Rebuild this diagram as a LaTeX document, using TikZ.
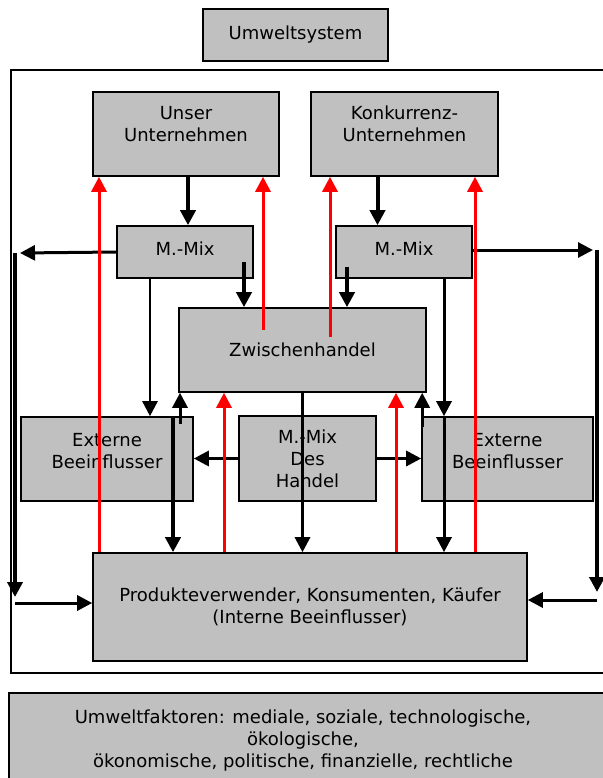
\documentclass[tikz,border=0pt]{standalone}
\usepackage{fontspec}
\setmainfont{DejaVu Sans}
\usetikzlibrary{arrows.meta}
\definecolor{boxgray}{RGB}{192,192,192}

\begin{document}
\begin{tikzpicture}[x=1pt,y=-1pt,
	box/.style={draw, line width=1.6pt, fill=boxgray, align=center, inner sep=0pt,
		font=\fontsize{18}{21.7}\selectfont},
	blk/.style={line width=3pt, -{Triangle[length=15pt,width=15pt]}},
	blkthick/.style={blk, line width=4pt},
	redarr/.style={red, line width=3pt, -{Triangle[length=15pt,width=15pt]}}]
	\useasboundingbox (0,0) rectangle (602,778);
	
	% Draw the Umweltsystem label
	\node[box, minimum width=185pt, minimum height=52pt] (umwelt) at (295.5,35) {Umweltsystem};
	
	% Draw the system frame
	\draw[line width=1.6pt] (11,70) rectangle (604,673);
	
	% Draw the companies
	\node[box, minimum width=186pt, minimum height=84pt, text depth=20pt] (unser) at (186,134) {Unser\\Unternehmen};
	\node[box, minimum width=187pt, minimum height=84pt, text depth=20pt] (konk) at (404.5,134) {Konkurrenz-\\Unternehmen};
	
	% Draw the marketing mixes
	\node[box, minimum width=136pt, minimum height=52pt, text depth=6pt] (mmixl) at (185,252) {M.-Mix};
	\node[box, minimum width=136pt, minimum height=52pt, text depth=6pt] (mmixr) at (404,252) {M.-Mix};
	
	% Draw the trade and the influencers
	\node[box, minimum width=247pt, minimum height=84pt] (zwh) at (302.5,350) {Zwischenhandel};
	\node[box, minimum width=172pt, minimum height=84pt, text depth=16pt] (extl) at (107,459) {Externe\\Beeinflusser};
	\node[box, minimum width=137pt, minimum height=85pt, text depth=-5pt] (mmixh) at (307.5,458.5) {M.-Mix\\Des\\Handel};
	\node[box, minimum width=171pt, minimum height=84pt, text depth=16pt] (extr) at (507.5,459) {Externe\\Beeinflusser};
	
	% Draw the buyers
	\node[box, minimum width=434pt, minimum height=108pt] (prod) at (310,607) {Produkteverwender, Konsumenten, Käufer\\(Interne Beeinflusser)};
	
	% Draw the environment factors
	\draw[line width=1.6pt, fill=boxgray] (9,693) rectangle (610,790);
	\node[align=center, font=\fontsize{18}{21.7}\selectfont] (faktor) at (303,740.4) {Umweltfaktoren: mediale, soziale, technologische,\\ökologische,\\ökonomische, politische, finanzielle, rechtliche};
	
	% Outer feedback lines
	\coordinate (ltop) at (15,253);
	\coordinate (lbot) at (15,597);
	\coordinate (rtop) at (597,250);
	\coordinate (rbot) at (597,592);
	\draw[blk] (mmixl.west) -- ([xshift=5pt]ltop);
	\draw[blkthick] (ltop) -- (lbot);
	\draw[blk] ([yshift=4pt]prod.west -| lbot) -- ([yshift=4pt]prod.west);
	\draw[blk] (mmixr.east |- rtop) -- ([xshift=-4pt]rtop);
	\draw[blkthick] (rtop) -- (rbot);
	\draw[blk] ([yshift=7pt]prod.east -| rbot) -- ([yshift=7pt]prod.east);
	
	% Black arrows
	\draw[blkthick] ([xshift=2pt]unser.south) -- ([xshift=2pt]unser.south |- mmixl.north);
	\draw[blkthick] ([xshift=-27pt]konk.south) -- ([xshift=-27pt]konk.south |- mmixr.north);
	\draw[blkthick] ([xshift=59pt,yshift=-10pt]mmixl.center) -- ([xshift=59pt]mmixl.center |- zwh.north);
	\draw[blkthick] ([xshift=-57pt,yshift=-15pt]mmixr.center) -- ([xshift=-57pt]mmixr.center |- zwh.north);
	\draw[blk, line width=2.5pt] ([xshift=-35pt]mmixl.south) -- ([xshift=-35pt]mmixl.south |- extl.north);
	\draw[blk] ([xshift=40pt]mmixr.south) -- ([xshift=40pt]mmixr.south |- extr.north);
	\draw[blk] ([xshift=40pt]mmixr.south |- extr.north) -- ([xshift=40pt]mmixr.south |- prod.north);
	\draw[blkthick] ([xshift=66pt]extl.north) -- ([xshift=66pt]extl.north |- prod.north);
	\draw[blk] ([xshift=73pt,yshift=-8pt]extl.north) -- ([xshift=73pt]extl.north |- zwh.south);
	\draw[blk] ([xshift=1pt,yshift=-11pt]extr.north west) -- ([xshift=1pt]extr.north west |- zwh.south);
	\draw[blk] (zwh.south) -- (zwh.south |- prod.north);
	\draw[blk] (mmixh.west) -- (mmixh.west -| extl.east);
	\draw[blk] (mmixh.east) -- (mmixh.east -| extr.west);
	
	% Red arrows
	\draw[redarr] ([xshift=-87pt]unser.south |- prod.north) -- ([xshift=-87pt]unser.south);
	\draw[redarr] ([xshift=77pt,yshift=20pt]unser.south |- zwh.center) -- ([xshift=77pt]unser.south);
	\draw[redarr] ([xshift=-74.5pt,yshift=13pt]konk.south |- zwh.center) -- ([xshift=-74.5pt]konk.south);
	\draw[redarr] ([xshift=70.5pt]konk.south |- prod.north) -- ([xshift=70.5pt]konk.south);
	\draw[redarr] ([xshift=-78.5pt]zwh.south |- prod.north) -- ([xshift=-78.5pt]zwh.south);
	\draw[redarr] ([xshift=93.5pt]zwh.south |- prod.north) -- ([xshift=93.5pt]zwh.south);
\end{tikzpicture}
\end{document}
